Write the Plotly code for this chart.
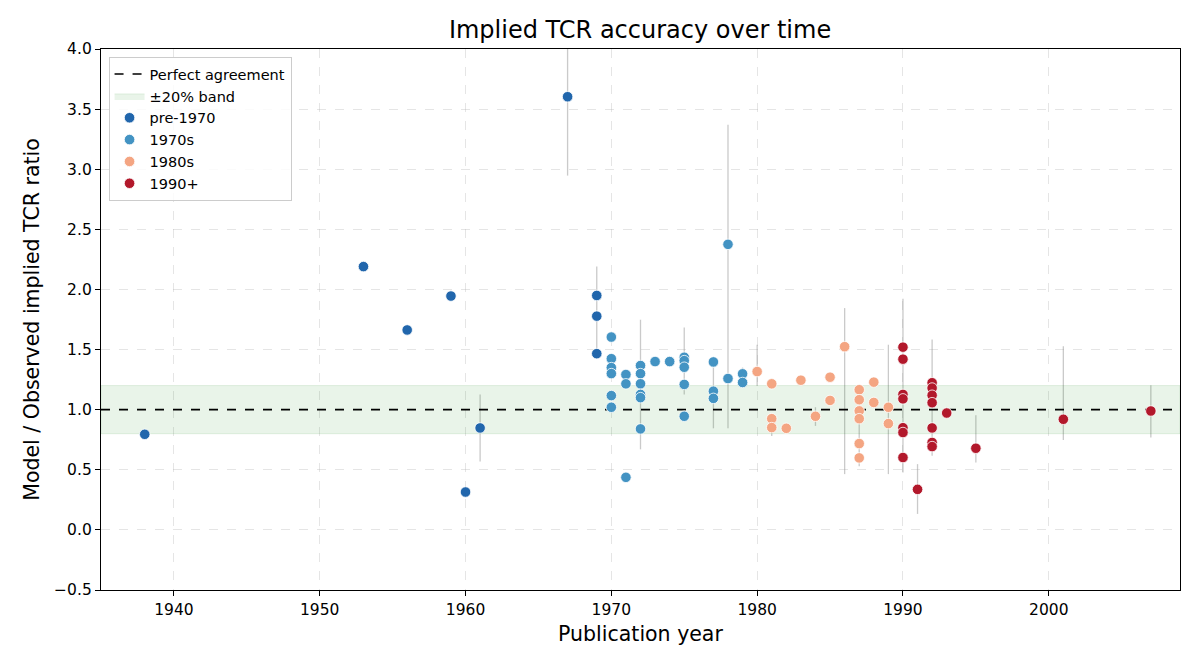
import plotly.graph_objects as go

# ---- data ----
groups = ["pre-1970", "1970s", "1980s", "1990+"]
colors = ["#2166ac", "#4393c3", "#f4a582", "#b2182b"]

pre1970_years = [1938, 1953, 1956, 1959, 1960, 1961, 1967, 1969, 1969, 1969]
pre1970_vals = [0.795, 2.19, 1.663, 1.945, 0.315, 0.848, 3.603, 1.95, 1.778, 1.466]

s1970_years = [1970, 1970, 1970, 1970, 1970, 1970,
               1971, 1971, 1971,
               1972, 1972, 1972, 1972, 1972, 1972,
               1973, 1974,
               1975, 1975, 1975, 1975, 1975,
               1977, 1977, 1977,
               1978, 1978,
               1979, 1979]
s1970_vals = [1.604, 1.424, 1.35, 1.30, 1.117, 1.02,
              1.292, 1.215, 0.437,
              1.367, 1.30, 1.215, 1.127, 1.10, 0.84,
              1.40, 1.40,
              1.436, 1.408, 1.353, 1.21, 0.945,
              1.397, 1.154, 1.094,
              2.375, 1.259,
              1.298, 1.226]

s1980_years = [1980, 1981, 1981, 1981, 1982, 1983, 1984, 1985, 1985, 1986,
               1987, 1987, 1987, 1987, 1987, 1987, 1988, 1988, 1989, 1989]
s1980_vals = [1.317, 1.215, 0.925, 0.851, 0.845, 1.245, 0.945, 1.27, 1.077, 1.524,
              1.166, 1.083, 0.99, 0.925, 0.718, 0.599, 1.229, 1.06, 1.02, 0.884]

s1990_years = [1990, 1990, 1990, 1990, 1990, 1990, 1990,
               1991,
               1992, 1992, 1992, 1992, 1992, 1992, 1992,
               1993, 1995, 2001, 2007]
s1990_vals = [1.52, 1.42, 1.127, 1.09, 0.85, 0.81, 0.602,
              0.337,
              1.224, 1.18, 1.12, 1.058, 0.848, 0.727, 0.693,
              0.972, 0.679, 0.92, 0.989]

# uncertainty ranges (year, low, high)
err_years = [1961, 1967, 1969, 1972, 1975, 1977, 1978, 1979, 1980, 1981, 1984,
             1986, 1987, 1989, 1990, 1991, 1992, 1995, 2001, 2007]
err_low = [0.569, 2.947, 1.45, 0.67, 1.127, 0.845, 0.845, 1.22, 1.196, 0.78, 0.865,
           0.464, 0.53, 0.464, 0.478, 0.133, 0.616, 0.56, 0.748, 0.768]
err_high = [1.127, 4.3, 2.19, 1.748, 1.684, 1.35, 3.37, 1.35, 1.54, 0.92, 1.02,
            1.845, 1.0, 1.54, 1.922, 0.547, 1.583, 0.953, 1.527, 1.204]

x_range = [1935, 2009]
y_range = [-0.5, 4.0]
band_low, band_high = 0.8, 1.2
perfect = 1.0

series_years = [pre1970_years, s1970_years, s1980_years, s1990_years]
series_vals = [pre1970_vals, s1970_vals, s1980_vals, s1990_vals]

FONT = "DejaVu Sans"

fig = go.Figure()

# error bars (drawn first, behind points)
ex, ey = [], []
for yr, lo, hi in zip(err_years, err_low, err_high):
    ex += [yr, yr, None]
    ey += [lo, hi, None]
fig.add_trace(go.Scatter(x=ex, y=ey, mode="lines",
                         line=dict(color="rgba(150,150,150,0.5)", width=1.3),
                         showlegend=False, hoverinfo="skip"))

# band (legend entry + fill)
fig.add_trace(go.Scatter(
    x=[x_range[0], x_range[1], x_range[1], x_range[0], x_range[0]],
    y=[band_low, band_low, band_high, band_high, band_low],
    mode="lines", fill="toself",
    fillcolor="rgba(0,128,0,0.085)",
    line=dict(color="rgba(0,128,0,0.10)", width=1),
    name="±20% band", legendrank=2))

# perfect agreement line
fig.add_trace(go.Scatter(x=x_range, y=[perfect, perfect], mode="lines",
                         line=dict(color="black", width=1.6, dash="dash"),
                         name="Perfect agreement", legendrank=1))

for i, (g, c, xs, ys) in enumerate(zip(groups, colors, series_years, series_vals)):
    fig.add_trace(go.Scatter(
        x=xs, y=ys, mode="markers", name=g, legendrank=3 + i,
        marker=dict(color=c, size=10.5, line=dict(color="white", width=0.8))))

grid = dict(showgrid=True, gridcolor="rgba(170,170,170,0.3)", griddash="dash", gridwidth=1)

fig.update_xaxes(range=x_range, tickvals=[1940, 1950, 1960, 1970, 1980, 1990, 2000],
                 showline=True, linecolor="black", linewidth=1.3, mirror=True,
                 ticks="outside", ticklen=5, tickcolor="black",
                 tickfont=dict(family=FONT, size=15.5, color="black"),
                 title=dict(text="Publication year", font=dict(family=FONT, size=20.5, color="black"),
                            standoff=8),
                 zeroline=False, **grid)
fig.update_yaxes(range=y_range, tickvals=[-0.5, 0, 0.5, 1, 1.5, 2, 2.5, 3, 3.5, 4],
                 tickformat=".1f",
                 showline=True, linecolor="black", linewidth=1.3, mirror=True,
                 ticks="outside", ticklen=5, tickcolor="black",
                 tickfont=dict(family=FONT, size=15.5, color="black"),
                 title=dict(text="Model / Observed implied TCR ratio",
                            font=dict(family=FONT, size=20.5, color="black"), standoff=8),
                 zeroline=False, **grid)

fig.update_layout(
    width=1200, height=667,
    plot_bgcolor="white", paper_bgcolor="white",
    margin=dict(l=93, r=28, t=41, b=85, autoexpand=False),
    title=dict(text="Implied TCR accuracy over time", x=0.5267, xanchor="center",
               y=0.967, yanchor="middle",
               font=dict(family=FONT, size=24, color="black")),
    font=dict(family=FONT, color="black"),
    legend=dict(x=0.007, y=0.985, xanchor="left", yanchor="top",
                bgcolor="rgba(255,255,255,0.85)", bordercolor="#cccccc", borderwidth=1,
                font=dict(family=FONT, size=14.5, color="black"),
                tracegroupgap=0, itemwidth=30),
    showlegend=True,
)

fig.write_html("out.html")
